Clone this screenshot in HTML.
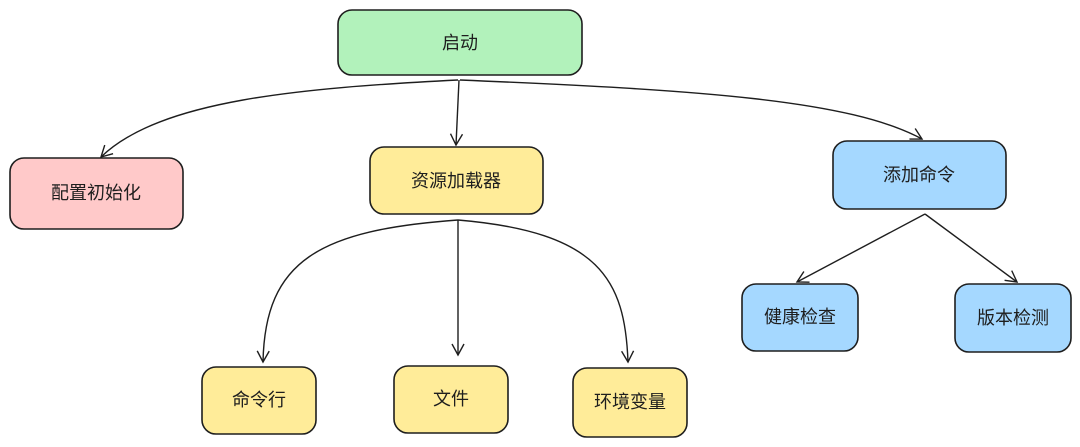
<!DOCTYPE html>
<html><head><meta charset="utf-8"><style>
html,body{margin:0;padding:0;background:#fff;}
svg{display:block}
text{font-family:"Liberation Sans","Noto Sans CJK SC",sans-serif;font-size:18px;fill:#1e1e1e;text-anchor:middle;dominant-baseline:central}
.n{stroke:#1e1e1e;stroke-width:1.6}
.e{fill:none;stroke:#1e1e1e;stroke-width:1.4}
</style></head><body>
<svg width="1080" height="447" viewBox="0 0 1080 447">
<defs><marker id="a" markerWidth="14" markerHeight="14" refX="12" refY="7" orient="auto" markerUnits="userSpaceOnUse">
<path d="M1,1 L12,7 L1,13" fill="none" stroke="#1e1e1e" stroke-width="1.4"/></marker></defs>

<rect class="n" x="338" y="10" width="244" height="65" rx="14" fill="#b2f2bb"/>
<text x="460" y="43">启动</text>
<rect class="n" x="10" y="158" width="173" height="71" rx="14" fill="#ffc9c9"/>
<text x="96" y="193">配置初始化</text>
<rect class="n" x="370" y="147" width="173" height="67" rx="14" fill="#ffec99"/>
<text x="456" y="181">资源加载器</text>
<rect class="n" x="833" y="141" width="173" height="68" rx="14" fill="#a5d8ff"/>
<text x="919" y="175">添加命令</text>
<rect class="n" x="742" y="284" width="116" height="67" rx="14" fill="#a5d8ff"/>
<text x="800" y="317">健康检查</text>
<rect class="n" x="955" y="284" width="116" height="68" rx="14" fill="#a5d8ff"/>
<text x="1013" y="318">版本检测</text>
<rect class="n" x="202" y="367" width="114" height="67" rx="14" fill="#ffec99"/>
<text x="259" y="400">命令行</text>
<rect class="n" x="394" y="366" width="114" height="67" rx="14" fill="#ffec99"/>
<text x="451" y="399">文件</text>
<rect class="n" x="573" y="368" width="114" height="69" rx="14" fill="#ffec99"/>
<text x="630" y="402">环境变量</text>

<path class="e" d="M458,80 C300,88 160,100 101,157" marker-end="url(#a)"/>
<path class="e" d="M459,80 L456,145" marker-end="url(#a)"/>
<path class="e" d="M460,80 C700,90 850,100 922,139" marker-end="url(#a)"/>
<path class="e" d="M458,220 C320,230 265,260 263,362" marker-end="url(#a)"/>
<path class="e" d="M458,220 L458,355" marker-end="url(#a)"/>
<path class="e" d="M458,220 C600,232 625,280 628,362" marker-end="url(#a)"/>
<path class="e" d="M925,214 L797,282" marker-end="url(#a)"/>
<path class="e" d="M925,214 L1017,282" marker-end="url(#a)"/>
</svg>
</body></html>
